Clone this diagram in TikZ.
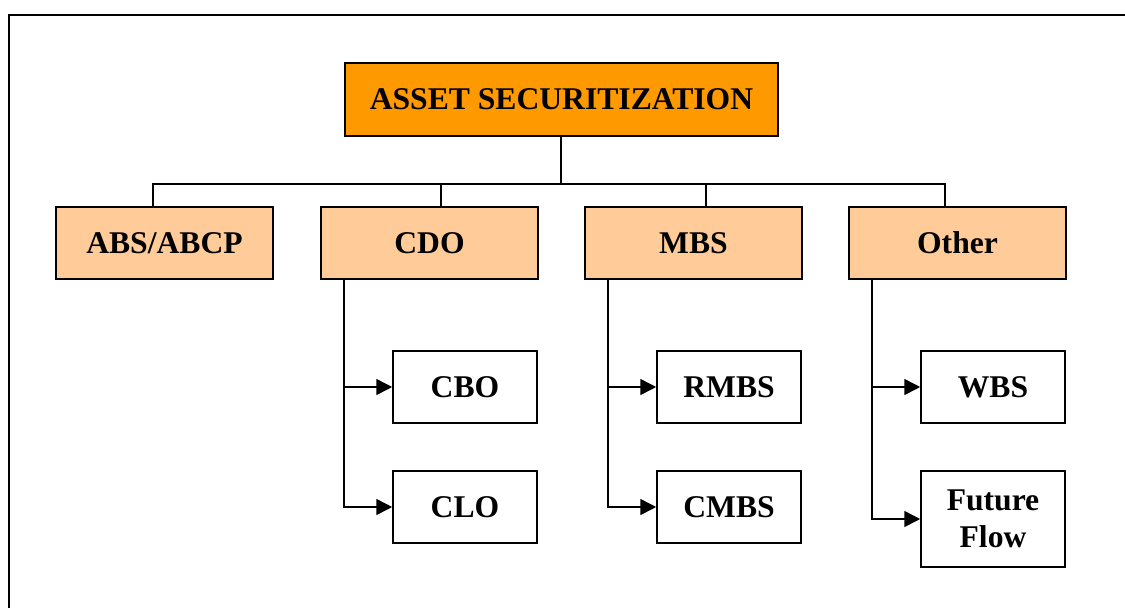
\documentclass[tikz,border=0pt]{standalone}
\usepackage{fontspec}
\setmainfont{Liberation Serif}
\usetikzlibrary{arrows.meta,positioning,calc}

\definecolor{rootorange}{HTML}{FF9900}
\definecolor{typepeach}{HTML}{FFCC99}

\begin{document}
\begin{tikzpicture}[x=0.02cm,y=-0.02cm,
  rootbox/.style={rectangle,draw,line width=0.9pt,fill=rootorange,
    minimum width=8.66cm,minimum height=1.46cm,align=center,
    font=\fontsize{18}{21}\selectfont\bfseries},
  typebox/.style={rectangle,draw,line width=0.9pt,fill=typepeach,
    minimum width=4.34cm,minimum height=1.44cm,align=center,
    font=\fontsize{18}{21}\selectfont\bfseries},
  subbox/.style={rectangle,draw,line width=0.9pt,fill=white,
    minimum width=2.88cm,minimum height=1.44cm,align=center,
    font=\fontsize{18}{21}\selectfont\bfseries},
  link/.style={draw,line width=0.9pt},
  arr/.style={link,-{Triangle[length=9pt,width=9pt]}}
]
\useasboundingbox (0,0) rectangle (1125,608);
% frame
\draw[line width=1.2pt] (9,608) |- (1125,15);

% root and types
\node[rootbox] (root)  at (561.5,99.5) {ASSET SECURITIZATION};
\node[typebox] (abs)   at (164.5,243)  {ABS/ABCP};
\node[typebox] (cdo)   at (429.5,243)  {CDO};
\node[typebox] (mbs)   at (693.5,243)  {MBS};
\node[typebox] (other) at (957.5,243)  {Other};

% sub types
\node[subbox] (cbo)  at (465,387) {CBO};
\node[subbox] (clo)  at (465,507) {CLO};
\node[subbox] (rmbs) at (729,387) {RMBS};
\node[subbox] (cmbs) at (729,507) {CMBS};
\node[subbox] (wbs)  at (993,387) {WBS};
\node[subbox,minimum height=1.92cm] (ff) at (993,519) {Future\\Flow};

% tree bar
\draw[link] ([xshift=-0.01cm]root.south) -- ++(0,47) coordinate (bar);
\draw[link] ([xshift=-0.23cm]abs.north) |- (bar) -| ([xshift=-0.25cm]other.north);
\draw[link] ([xshift=0.23cm]cdo.north) -- ([xshift=0.23cm]cdo.north |- bar);
\draw[link] ([xshift=0.25cm]mbs.north) -- ([xshift=0.25cm]mbs.north |- bar);

% branches
\draw[arr] ([xshift=0.48cm]cdo.south west) |- (clo.west);
\draw[arr] ([xshift=0.48cm]cdo.south west |- cbo.west) -- (cbo.west);
\draw[arr] ([xshift=0.48cm]mbs.south west) |- (cmbs.west);
\draw[arr] ([xshift=0.48cm]mbs.south west |- rmbs.west) -- (rmbs.west);
\draw[arr] ([xshift=0.48cm]other.south west) |- (ff.west);
\draw[arr] ([xshift=0.48cm]other.south west |- wbs.west) -- (wbs.west);
\end{tikzpicture}
\end{document}
